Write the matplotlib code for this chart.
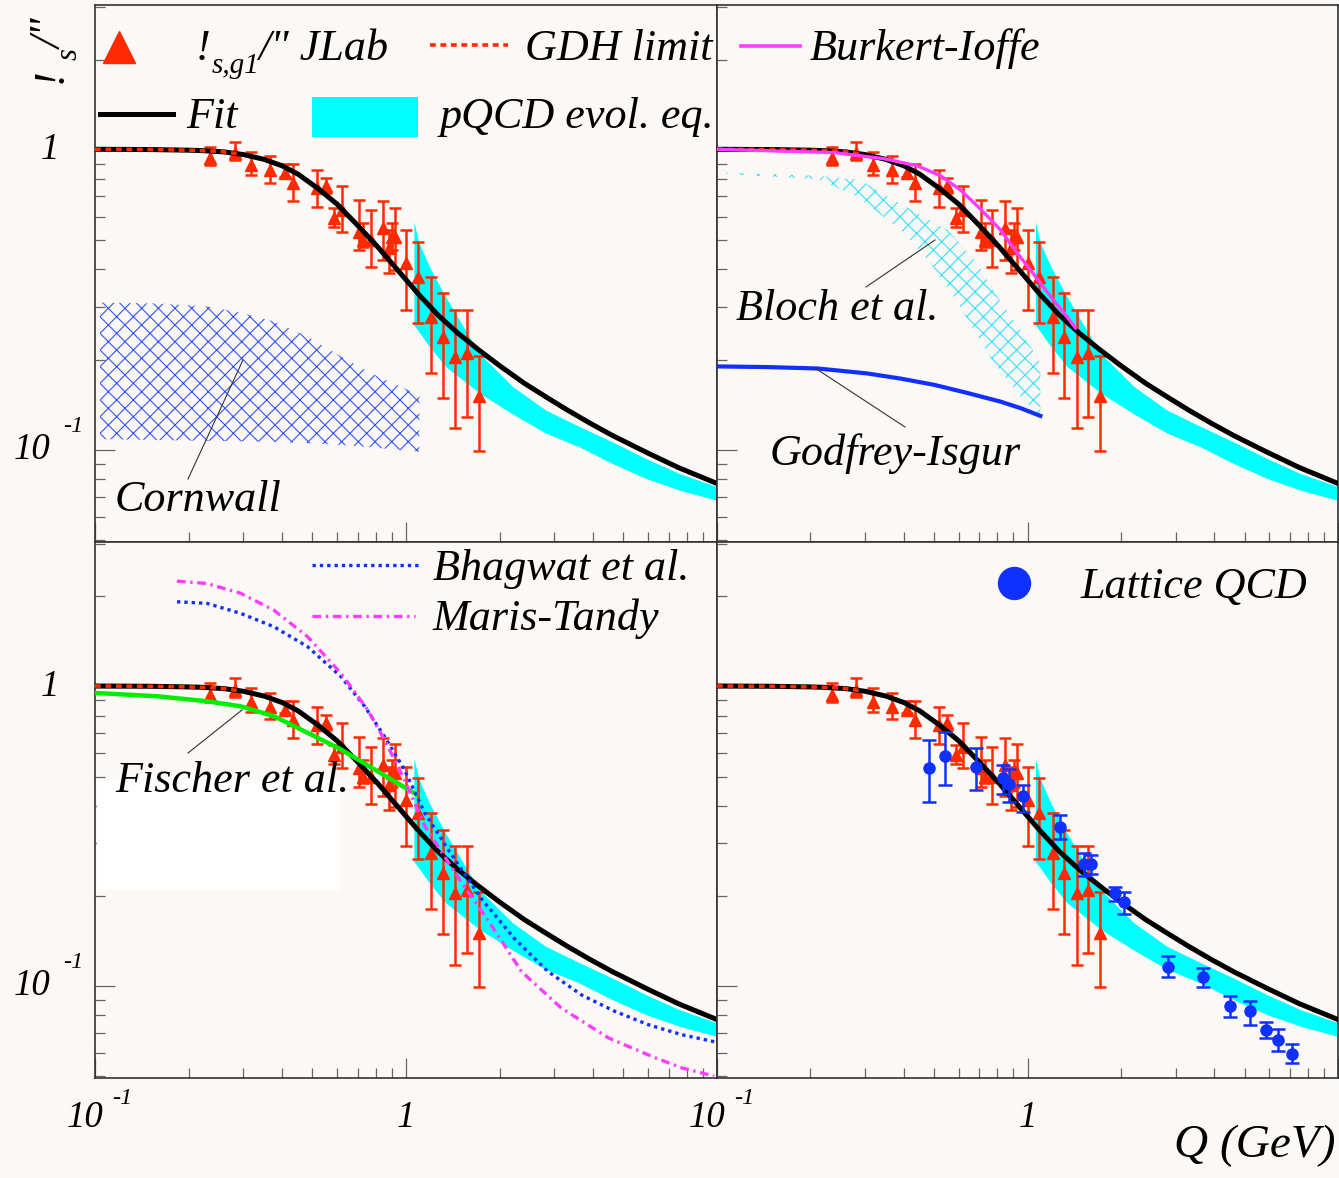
import matplotlib.pyplot as plt
import matplotlib.transforms as mtransforms
from matplotlib.lines import Line2D
from matplotlib.patches import Rectangle
import numpy as np

W, H = 1339, 1178
BG = '#fbf8f5'
RED = '#ff2a00'
CYAN = '#00ffff'
BLUE = '#1030ff'
MAGENTA = '#ff3cff'
GREEN = '#00ee00'
SERIF = ['Liberation Serif', 'DejaVu Serif']
FS = 31.8

plt.rcParams['hatch.linewidth'] = 0.8

## data
# fit
q_fit = [0.10, 0.15, 0.20, 0.22, 0.26, 0.30, 0.35, 0.40, 0.45, 0.52, 0.60, 0.70, 0.81, 0.94,
         1.09, 1.27, 1.47, 1.71, 2.0, 2.4, 2.8, 3.3, 3.9, 4.6, 5.9, 7.5, 10.0]
a_fit = [1.005, 1.003, 0.998, 0.995, 0.985, 0.965, 0.93, 0.885, 0.83, 0.745, 0.66, 0.56, 0.476, 0.398,
         0.333, 0.281, 0.245, 0.216, 0.191, 0.167, 0.151, 0.136, 0.123, 0.112, 0.0985, 0.0875, 0.0774]
# GDH limit
q_gdh = [0.10, 0.15, 0.20, 0.25, 0.29]
a_gdh = [1.005, 1.003, 0.998, 0.99, 0.97]
# pQCD evolution band
q_band = [1.06, 1.10, 1.19, 1.34, 1.72, 2.20, 2.81, 3.60, 4.60, 5.90, 7.55, 10.0]
band_hi = [0.577, 0.49, 0.408, 0.324, 0.210, 0.163, 0.136, 0.120, 0.1066, 0.0938, 0.0836, 0.0755]
band_lo = [0.261, 0.248, 0.221, 0.190, 0.155, 0.132, 0.114, 0.1026, 0.0903, 0.0805, 0.0736, 0.068]
# JLab alpha_s,g1
q_jlab = [0.234, 0.281, 0.318, 0.365, 0.408, 0.434, 0.519, 0.552, 0.588, 0.621, 0.707, 0.730,
          0.771, 0.845, 0.884, 0.902, 0.922, 1.00, 1.09, 1.204, 1.312, 1.442, 1.57, 1.715]
a_jlab = [0.938, 0.975, 0.891, 0.858, 0.836, 0.774, 0.745, 0.759, 0.592, 0.631, 0.534, 0.501,
          0.501, 0.548, 0.470, 0.514, 0.514, 0.419, 0.378, 0.278, 0.239, 0.205, 0.210, 0.151]
hi_jlab = [1.026, 1.066, 0.987, 0.955, 0.896, 0.896, 0.858, 0.805, 0.639, 0.759, 0.681, 0.570,
           0.631, 0.676, 0.541, 0.570, 0.642, 0.541, 0.495, 0.378, 0.333, 0.293, 0.293, 0.206]
lo_jlab = [0.891, 0.926, 0.825, 0.778, 0.815, 0.676, 0.644, 0.717, 0.552, 0.534, 0.464, 0.476,
           0.407, 0.430, 0.388, 0.464, 0.398, 0.293, 0.266, 0.181, 0.149, 0.118, 0.129, 0.0995]
# Lattice QCD
q_lat = [0.483, 0.541, 0.684, 0.835, 0.872, 0.966, 1.276, 1.52, 1.60, 1.91, 2.04, 2.83,
         3.68, 4.50, 5.22, 5.87, 6.40, 7.13]
a_lat = [0.537, 0.587, 0.539, 0.497, 0.472, 0.430, 0.340, 0.256, 0.256, 0.204, 0.191, 0.116,
         0.1077, 0.0856, 0.0824, 0.0716, 0.0663, 0.0594]
hi_lat = [0.662, 0.705, 0.626, 0.547, 0.533, 0.469, 0.373, 0.278, 0.275, 0.215, 0.206, 0.126,
          0.115, 0.0925, 0.0894, 0.0760, 0.0719, 0.0641]
lo_lat = [0.411, 0.469, 0.452, 0.438, 0.413, 0.382, 0.310, 0.234, 0.237, 0.193, 0.174, 0.107,
          0.0996, 0.0788, 0.0741, 0.0671, 0.0609, 0.0554]
# Cornwall band
q_corn = [0.1038, 0.158, 0.229, 0.294, 0.376, 0.482, 0.617, 0.790, 1.104]
corn_hi = [0.310, 0.308, 0.301, 0.287, 0.268, 0.239, 0.205, 0.178, 0.1526]
corn_lo = [0.1088, 0.108, 0.1074, 0.107, 0.1065, 0.1055, 0.104, 0.102, 0.0987]
# Bloch et al. band (upper edge, then lower edge)
q_bloch_up = [0.107, 0.211, 0.290, 0.354, 0.442, 0.552, 0.689, 0.799, 0.949, 1.10]
a_bloch_up = [0.84, 0.82, 0.794, 0.699, 0.615, 0.541, 0.419, 0.324, 0.251, 0.195]
q_bloch_lo = [0.107, 0.211, 0.283, 0.391, 0.488, 0.580, 0.672, 0.779, 0.949, 1.10]
a_bloch_lo = [0.83, 0.80, 0.699, 0.541, 0.419, 0.324, 0.251, 0.195, 0.151, 0.129]
# Godfrey-Isgur
q_gi = [0.1005, 0.146, 0.211, 0.305, 0.391, 0.500, 0.640, 0.819, 0.949, 1.10]
a_gi = [0.190, 0.189, 0.187, 0.180, 0.173, 0.165, 0.155, 0.145, 0.138, 0.130]
# Burkert-Ioffe
q_bi = [0.1, 0.238, 0.345, 0.442, 0.525, 0.609, 0.706, 0.819, 0.927, 1.048, 1.186, 1.341, 1.427]
a_bi = [1.005, 0.98, 0.935, 0.885, 0.82, 0.735, 0.635, 0.541, 0.453, 0.385, 0.325, 0.278, 0.255]
# Fischer et al.
q_fi = [0.1, 0.158, 0.229, 0.294, 0.376, 0.482, 0.617, 0.790, 1.077]
a_fi = [0.953, 0.929, 0.894, 0.860, 0.797, 0.702, 0.618, 0.530, 0.438]
# Bhagwat et al.
q_bh = [0.1835, 0.229, 0.294, 0.376, 0.482, 0.617, 0.736, 0.851, 0.987, 1.146, 1.363, 1.746,
        2.235, 2.86, 3.67, 4.70, 6.02, 7.71, 10.0]
a_bh = [1.92, 1.897, 1.757, 1.585, 1.361, 1.082, 0.860, 0.684, 0.530, 0.380, 0.287, 0.196,
        0.144, 0.112, 0.0935, 0.0824, 0.0744, 0.0689, 0.065]
# Maris-Tandy
q_mt = [0.1835, 0.229, 0.294, 0.376, 0.482, 0.617, 0.752, 0.851, 0.987, 1.146, 1.504, 1.88,
        2.35, 3.16, 4.48, 6.33, 7.71, 9.8]
a_mt = [2.25, 2.21, 2.05, 1.80, 1.47, 1.11, 0.839, 0.667, 0.491, 0.344, 0.223, 0.160,
        0.112, 0.0845, 0.0672, 0.0577, 0.0534, 0.0501]

GDH_LS = (0, (1.6, 1.3))
MT_LS = (0, (2.6, 1.4, 0.7, 1.4))
BH_LS = (0, (1, 1.2))

fig = plt.figure(figsize=(W / 100, H / 100), dpi=100)
fig.patch.set_facecolor(BG)


def fpos(px, py):
    return px / W, 1 - py / H


def ftext(px, py, s, size=FS, **kw):
    x, y = fpos(px, py)
    kw.setdefault('va', 'baseline')
    return fig.text(x, y, s, fontsize=size, family=SERIF, style='italic', **kw)


def fline(x0, y0, x1, y1, **kw):
    a, b = fpos(x0, y0)
    c, d = fpos(x1, y1)
    fig.add_artist(Line2D([a, c], [b, d], transform=fig.transFigure, **kw))


def setup(ax):
    ax.set_xscale('log')
    ax.set_yscale('log')
    ax.set_xlim(0.1, 10)
    ax.set_ylim(0.0494, 3.04)
    ax.set_facecolor(BG)
    ax.tick_params(which='both', direction='in', left=True, bottom=True, top=False, right=False,
                   labelleft=False, labelbottom=False, color='#666666', width=0.9)
    ax.tick_params(which='major', length=14.5)
    ax.tick_params(which='minor', length=7.2)
    for sp in ax.spines.values():
        sp.set_linewidth(1.2)
        sp.set_color('#333333')


def common(ax):
    ax.fill_between(q_band, band_lo, band_hi, color=CYAN, lw=0, zorder=1)
    a = np.array(a_jlab)
    ax.errorbar(q_jlab, a, yerr=[a - np.array(lo_jlab), np.array(hi_jlab) - a], fmt='^', ms=9,
                color=RED, ecolor=RED, elinewidth=1.8, capsize=4.5, capthick=1.8, zorder=3)
    ax.plot(q_fit, a_fit, color='black', lw=3.6, zorder=4)
    ax.plot(q_gdh, a_gdh, color=RED, lw=2.6, ls=GDH_LS, zorder=5)


ax_tl = fig.add_axes([95 / W, 1 - 542 / H, 622 / W, 537 / H])
ax_tr = fig.add_axes([717 / W, 1 - 542 / H, 621 / W, 537 / H])
ax_bl = fig.add_axes([95 / W, 1 - 1078 / H, 622 / W, 536 / H])
ax_br = fig.add_axes([717 / W, 1 - 1078 / H, 621 / W, 536 / H])
for ax in (ax_tl, ax_tr, ax_bl, ax_br):
    setup(ax)
    common(ax)

# top left: Cornwall
ax_tl.fill_between(q_corn, corn_lo, corn_hi, facecolor='none', edgecolor='#3355ff',
                   hatch='xx', lw=0, zorder=1.5)

# top right: Bloch, Godfrey-Isgur, Burkert-Ioffe
ax_tr.fill(q_bloch_up + q_bloch_lo[::-1], a_bloch_up + a_bloch_lo[::-1], facecolor='none',
           edgecolor='#33e0ff', hatch='xx', lw=0, zorder=1.5)
ax_tr.plot(q_gi, a_gi, color=BLUE, lw=3, zorder=5)
ax_tr.plot(q_bi, a_bi, color=MAGENTA, lw=2.4, zorder=5)

# bottom left: Fischer, Bhagwat, Maris-Tandy
ax_bl.add_patch(Rectangle((0.003, 0.351), 0.391, 0.205, transform=ax_bl.transAxes,
                          facecolor='white', lw=0, zorder=2))
ax_bl.plot(q_fi, a_fi, color=GREEN, lw=3.2, zorder=5)
ax_bl.plot(q_bh, a_bh, color=BLUE, lw=2.4, ls=BH_LS, zorder=5)
ax_bl.plot(q_mt, a_mt, color=MAGENTA, lw=2.4, ls=MT_LS, zorder=5)

# bottom right: lattice
al = np.array(a_lat)
ax_br.errorbar(q_lat, al, yerr=[al - np.array(lo_lat), np.array(hi_lat) - al], fmt='o', ms=8,
               color=BLUE, ecolor=BLUE, elinewidth=1.8, capsize=5, capthick=1.8, zorder=6)

## tick labels
TS, ES = 26.5, 17.5
for ax in (ax_tl, ax_bl):
    yl = mtransforms.blended_transform_factory(fig.transFigure, ax.transData)
    up = mtransforms.ScaledTranslation(0, 0.24, fig.dpi_scale_trans)
    ax.text(50 / W, 1, '1', transform=yl, ha='center', va='center', fontsize=TS,
            family=SERIF, style='italic')
    ax.text(32 / W, 0.1, '10', transform=yl, ha='center', va='center', fontsize=TS,
            family=SERIF, style='italic')
    ax.text(73 / W, 0.1, '-1', transform=yl + up, ha='center', va='center', fontsize=ES,
            family=SERIF, style='italic')
for ax in (ax_bl, ax_br):
    xl = mtransforms.blended_transform_factory(ax.transData, fig.transFigure)
    lft = mtransforms.ScaledTranslation(-0.10, 0, fig.dpi_scale_trans)
    rgt = mtransforms.ScaledTranslation(0.27, 0, fig.dpi_scale_trans)
    ax.text(0.1, 1 - 1118 / H, '10', transform=xl + lft, ha='center', va='center', fontsize=TS,
            family=SERIF, style='italic')
    ax.text(0.1, 1 - 1099 / H, '-1', transform=xl + rgt, ha='center', va='center', fontsize=ES,
            family=SERIF, style='italic')
    ax.text(1, 1 - 1118 / H, '1', transform=xl, ha='center', va='center', fontsize=TS,
            family=SERIF, style='italic')

ftext(1336, 1157, 'Q (GeV)', size=34, ha='right')

# y title
ftext(62, 83, '!', rotation=90, rotation_mode='anchor', ha='left')
ftext(77, 60, 's', size=22, rotation=90, rotation_mode='anchor', ha='left')
ftext(62, 50, '/"', rotation=90, rotation_mode='anchor', ha='left')

## legends
x, y = fpos(119, 47)
fig.add_artist(Line2D([x], [y], marker='^', ms=23, color=RED, lw=0, transform=fig.transFigure))
ftext(196, 60, '!')
ftext(212, 73, 's,g1', size=21)
ftext(258, 60, '/" JLab')
fline(430, 45, 508, 45, color=RED, lw=2.6, ls=GDH_LS)
ftext(525, 60, 'GDH limit')
fline(741, 46, 800, 46, color=MAGENTA, lw=2.6)
ftext(810, 60, 'Burkert-Ioffe')
fline(100, 114, 173, 114, color='black', lw=3.6)
ftext(186, 128, 'Fit')
x, y = fpos(312, 137)
fig.add_artist(Rectangle((x, y), 106 / W, 40 / H, transform=fig.transFigure, color=CYAN, lw=0))
ftext(440, 128, 'pQCD evol. eq.')

fline(312, 565, 418, 565, color=BLUE, lw=2.4, ls=BH_LS)
ftext(433, 580, 'Bhagwat et al.')
fline(312, 616, 415, 616, color=MAGENTA, lw=2.4, ls=MT_LS)
ftext(433, 630, 'Maris-Tandy')
x, y = fpos(1014, 583)
fig.add_artist(Line2D([x], [y], marker='o', ms=23, color=BLUE, lw=0, transform=fig.transFigure))
ftext(1081, 598, 'Lattice QCD')

## annotations
ftext(115, 511, 'Cornwall')
fline(188, 479, 243, 360, color='#333333', lw=0.8)
ftext(736, 320, 'Bloch et al.')
fline(866, 287, 935, 240, color='#333333', lw=0.8)
ftext(770, 465, 'Godfrey-Isgur')
fline(905, 427, 815, 368, color='#333333', lw=0.8)
ftext(115, 792, 'Fischer et al.', zorder=10)
fline(188, 753, 242, 710, color='#333333', lw=0.8)

fig.savefig('out.png', dpi=100, facecolor=BG)
